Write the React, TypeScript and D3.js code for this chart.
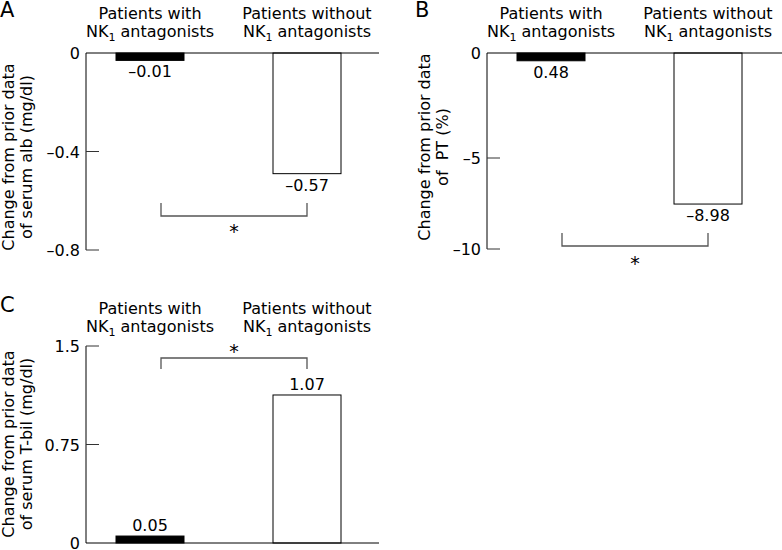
import React from "react";
import * as d3 from "d3";

const categories = ["with", "without"];
const headerLine1 = ["Patients with", "Patients without"];

// Panel A: serum albumin (drawn heights, labels as printed)
const valuesA = [-0.03, -0.49];
const labelsA = ["–0.01", "–0.57"];
const ticksA = [0, -0.4, -0.8];
const tickLabelsA = ["0", "–0.4", "–0.8"];

// Panel B: PT
const valuesB = [-0.37, -7.53];
const labelsB = ["0.48", "–8.98"];
const ticksB = [0, -5, -10];
const tickLabelsB = ["0", "–5", "–10"];

// Panel C: T-bil
const valuesC = [0.053, 1.127];
const labelsC = ["0.05", "1.07"];
const ticksC = [1.5, 0.75, 0];
const tickLabelsC = ["1.5", "0.75", "0"];

const FONT = "DejaVu Sans, Verdana, sans-serif";
const FS = 16;

type PanelProps = {
  letter: string;
  letterX: number;
  tx: number;
  ty: number;
  values: number[];
  labels: string[];
  ticks: number[];
  tickLabels: string[];
  domain: number[];
  range: number[];
  yLabel: string[];
  yLabelX: number;
  yLabelCenter: number;
  zeroLineEnd: number;
  bracket: { y1: number; y2: number; starY: number };
};

function Panel(p: PanelProps) {
  const y = d3.scaleLinear().domain(p.domain).range(p.range);
  const x = d3.scalePoint<string>().domain(categories).range([150, 307]);
  const bw = 68;
  const axisX = 86;
  const y0 = y(0);
  const yMin = d3.min(p.ticks.map((t) => y(t))) as number;
  const yMax = d3.max(p.ticks.map((t) => y(t))) as number;
  const bx1 = (x(categories[0]) as number) + 11;
  const bx2 = x(categories[1]) as number;
  return (
    <g transform={`translate(${p.tx},${p.ty})`} fontFamily={FONT} fontSize={FS}>
      <text x={p.letterX} y={17} fontSize={21} textAnchor="start">
        {p.letter}
      </text>
      {categories.map((c, i) => (
        <g key={c}>
          <text x={x(c)} y={19} textAnchor="middle">
            {headerLine1[i]}
          </text>
          <text x={x(c)} y={37} textAnchor="middle">
            NK
            <tspan fontSize={11} dy={4}>1</tspan>
            <tspan dy={-4}> antagonists</tspan>
          </text>
        </g>
      ))}
      {/* y axis label */}
      <g transform={`translate(${p.yLabelX},${p.yLabelCenter}) rotate(-90)`}>
        <text x={0} y={0} textAnchor="middle">
          {p.yLabel[0]}
        </text>
        <text x={0} y={18} textAnchor="middle" style={{ whiteSpace: "pre" }}>
          {p.yLabel[1]}
        </text>
      </g>
      {/* bars */}
      {categories.map((c, i) => {
        const v = p.values[i];
        const top = Math.min(y(v), y0);
        const h = Math.abs(y(v) - y0);
        return (
          <rect
            key={c}
            x={(x(c) as number) - bw / 2}
            y={top}
            width={bw}
            height={h}
            fill={i === 0 ? "#000" : "#fff"}
            stroke="#000"
            strokeWidth={1}
          />
        );
      })}
      {/* value labels */}
      {categories.map((c, i) => {
        const v = p.values[i];
        const ly = v < 0 ? y(v) + 17 : y(v) - 5;
        return (
          <text key={c} x={x(c)} y={ly} textAnchor="middle">
            {p.labels[i]}
          </text>
        );
      })}
      {/* axis */}
      <line x1={axisX} x2={axisX} y1={yMin} y2={yMax} stroke="#000" />
      <line x1={axisX} x2={p.zeroLineEnd} y1={y0} y2={y0} stroke="#000" />
      {p.ticks.map((t, i) => (
        <g key={t}>
          {t !== 0 && (
            <line x1={axisX} x2={axisX + 13} y1={y(t)} y2={y(t)} stroke="#333" />
          )}
          <text x={80} y={y(t) + 6} textAnchor="end">
            {p.tickLabels[i]}
          </text>
        </g>
      ))}
      {/* significance bracket */}
      <path
        d={`M${bx1},${p.bracket.y1}V${p.bracket.y2}H${bx2}V${p.bracket.y1}`}
        fill="none"
        stroke="#555"
        strokeWidth={1.3}
      />
      <text x={(bx1 + bx2) / 2} y={p.bracket.starY + 11} textAnchor="middle" fontSize={19}>
        *
      </text>
    </g>
  );
}

export default function App() {
  return (
    <svg
      width={782}
      height={550}
      style={{ position: "absolute", left: 0, top: 0, background: "#fff" }}
    >
      <rect width={782} height={550} fill="#fff" />
      <Panel
        letter="A"
        letterX={0}
        tx={0}
        ty={0}
        values={valuesA}
        labels={labelsA}
        ticks={ticksA}
        tickLabels={tickLabelsA}
        domain={[0, -0.8]}
        range={[53, 250]}
        yLabel={["Change from prior data", "of serum alb (mg/dl)"]}
        yLabelX={14}
        yLabelCenter={157}
        zeroLineEnd={379}
        bracket={{ y1: 203, y2: 216, starY: 227 }}
      />
      <Panel
        letter="B"
        letterX={14}
        tx={401}
        ty={0}
        values={valuesB}
        labels={labelsB}
        ticks={ticksB}
        tickLabels={tickLabelsB}
        domain={[0, -5, -10]}
        range={[53, 158, 249]}
        yLabel={["Change from prior data", "of  PT (%)"]}
        yLabelX={29}
        yLabelCenter={147}
        zeroLineEnd={381}
        bracket={{ y1: 233, y2: 246, starY: 259 }}
      />
      <Panel
        letter="C"
        letterX={0}
        tx={0}
        ty={295}
        values={valuesC}
        labels={labelsC}
        ticks={ticksC}
        tickLabels={tickLabelsC}
        domain={[0, 1.5]}
        range={[248, 51]}
        yLabel={["Change from prior data", "of serum T-bil (mg/dl)"]}
        yLabelX={14}
        yLabelCenter={149}
        zeroLineEnd={379}
        bracket={{ y1: 74, y2: 63, starY: 52 }}
      />
    </svg>
  );
}
